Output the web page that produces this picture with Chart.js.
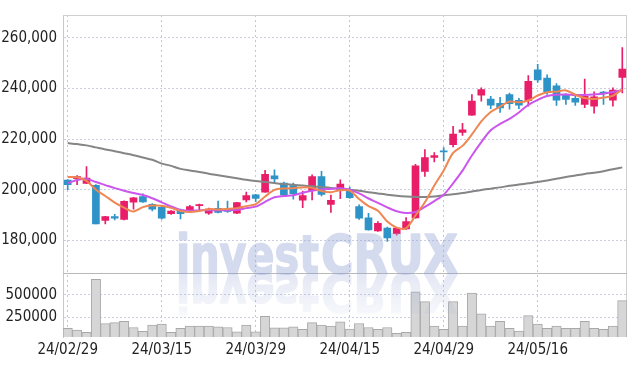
<!DOCTYPE html>
<html>
<head>
<meta charset="utf-8">
<script src="https://cdn.jsdelivr.net/npm/chart.js@4.4.1/dist/chart.umd.min.js"></script>
<style>
  html, body { margin: 0; padding: 0; background: #fff; }
</style>
</head>
<body>
<canvas id="chart" width="637" height="366"></canvas>
<script>
// --- Data -------------------------------------------------------------------
var dates = [
  '24/02/29','24/03/04','24/03/05','24/03/06','24/03/07','24/03/08','24/03/11','24/03/12','24/03/13','24/03/14',
  '24/03/15','24/03/18','24/03/19','24/03/20','24/03/21','24/03/22','24/03/25','24/03/26','24/03/27','24/03/28',
  '24/03/29','24/04/01','24/04/02','24/04/03','24/04/04','24/04/05','24/04/08','24/04/09','24/04/11','24/04/12',
  '24/04/15','24/04/16','24/04/17','24/04/18','24/04/19','24/04/22','24/04/23','24/04/24','24/04/25','24/04/26',
  '24/04/29','24/04/30','24/05/02','24/05/03','24/05/07','24/05/08','24/05/09','24/05/10','24/05/13','24/05/14',
  '24/05/16','24/05/17','24/05/20','24/05/21','24/05/22','24/05/23','24/05/24','24/05/27','24/05/28','24/05/29'
];

var openP = [
  203800, 204300, 202500, 201750, 187800, 189400, 188200, 195100, 197300, 194200,
  193000, 190500, 192000, 191800, 193700, 190700, 192600, 192300, 190700, 195900,
  198000, 199000, 205500, 202600, 201600, 195800, 199600, 205200, 194200, 200000,
  200000, 193300, 188900, 183700, 184800, 182600, 184500, 188800, 207200, 212700,
  215300, 217800, 222600, 229400, 237300, 235800, 234100, 237600, 235300, 235300,
  247300, 244100, 241000, 237300, 236100, 233700, 233000, 238500, 235400, 244300
];
var highP = [
  204000, 205600, 209100, 202000, 189500, 190300, 195600, 197000, 198400, 194500,
  193300, 191700, 192300, 193800, 194300, 192700, 195500, 195500, 195000, 199000,
  198200, 207600, 207800, 203000, 202600, 199400, 205900, 207200, 197900, 203900,
  201000, 194000, 190600, 187400, 185200, 185100, 189000, 210000, 215800, 214600,
  216600, 225000, 226200, 237600, 240200, 236900, 236500, 238200, 236100, 245100,
  249500, 245400, 241900, 238000, 236900, 243700, 238600, 238800, 240200, 256100
];
var lowP = [
  200000, 202000, 202500, 186500, 186500, 188000, 188000, 192300, 195000, 191600,
  188300, 190200, 188400, 190900, 192000, 190200, 190800, 191000, 190500, 195200,
  195300, 199000, 202900, 197800, 196200, 192900, 195900, 197500, 191000, 196400,
  196500, 188200, 184000, 183500, 179600, 182000, 184300, 188700, 205200, 211000,
  211500, 216900, 221400, 229300, 235000, 232000, 230500, 231800, 232000, 233000,
  242400, 237600, 233300, 233700, 233300, 232400, 230200, 233700, 233000, 238200
];
var closeP = [
  202000, 205200, 204600, 186500, 189400, 188700, 195400, 196800, 195200, 192300,
  188700, 191500, 190500, 193300, 194100, 192300, 191000, 191400, 194900, 197700,
  196500, 206100, 204200, 197900, 198400, 197700, 205200, 198100, 195800, 202200,
  196800, 188700, 184100, 186700, 180900, 184800, 187400, 209400, 212700, 213500,
  214900, 222000, 223600, 235000, 239500, 233400, 232300, 234000, 233400, 242800,
  243400, 238700, 235400, 235600, 234600, 236900, 236700, 238000, 239300, 247600
];

var volume = [
  122000, 103500,  78000, 673000, 177000, 188000, 202600, 133000,  89000, 158600,
  169600,  78000, 122000, 147600, 147600, 147600, 140000, 133000,  85000, 158600,
   85000, 257700, 129000, 129000, 140000, 111000, 188000, 158600, 147600, 195000,
  114500, 177000, 133000, 111000, 133000,  67000,  78000, 533000, 423000, 147600,
  111000, 423000, 147600, 518000, 287000, 147600, 202600, 122000,  92500, 265000,
  169600, 122000, 147600, 122000, 122000, 202600, 122000, 111000, 147600, 434000
];

// moving averages
var ma5 = [
  205000, 204900, 203500, 200000, 197500, 194900, 192900, 191400, 193100, 193700,
  193600, 192800, 191600, 191200, 191600, 192300, 192200, 192400, 192700, 193500,
  194300, 197300, 199900, 200500, 200600, 200900, 200700, 199500, 199000, 199800,
  199600, 196300, 193500, 191700, 187400, 185000, 184800, 189800, 195000, 201600,
  207600, 214500, 217300, 221800, 227000, 230700, 232800, 234800, 234500, 235200,
  237200, 238500, 238700, 239200, 237500, 236200, 235800, 236400, 237100, 239700
];
var ma20 = [
  202600, 203800, 204300, 203000, 201800, 200600, 199600, 198700, 197900, 196600,
  195000, 193400, 192000, 191700, 191800, 191900, 191900, 191900, 192100, 192700,
  193300, 195200, 197000, 197500, 197800, 198800, 199600, 200100, 200300, 200600,
  200000, 198500, 196500, 194800, 193000, 191500, 190800, 191200, 193200, 195500,
  198000, 202500, 207500, 213500, 218800, 223500, 226000, 228000, 230500, 233500,
  235500, 237000, 237500, 237600, 237400, 237400, 237600, 237900, 238600, 239300
];
var ma60 = [
  218400, 218000, 217500, 216700, 215900, 215200, 214400, 213600, 212700, 211800,
  210300, 209400, 208200, 207600, 207000, 206300, 205700, 205100, 204500, 203900,
  203400, 203000, 202600, 202200, 201900, 201600, 201300, 201000, 200700, 200300,
  200000, 199600, 199000, 198500, 198000, 197600, 197300, 197100, 197100, 197300,
  197800, 198200, 198700, 199300, 199900, 200400, 200900, 201500, 202000, 202500,
  203000, 203600, 204300, 205000, 205600, 206200, 206700, 207300, 208100, 208800
];

var priceTicks  = [180000, 200000, 220000, 240000, 260000];
var volumeTicks = [250000, 500000];

// --- Styling helpers --------------------------------------------------------
var UP = '#e81e68';
var DOWN = '#2e93c6';
var candleColors = openP.map(function(o, i){ return closeP[i] >= o ? UP : DOWN; });
var tickFont = { family: '"Liberation Sans Narrow", "DejaVu Sans Condensed", "Liberation Sans", sans-serif', size: 15 };

function lineSet(label, data, color){
  return {
    type: 'line', label: label, data: data, yAxisID: 'y',
    borderColor: color, borderWidth: 2, pointRadius: 0,
    tension: 0.3, fill: false, order: 0
  };
}

// frame lines and the divider between the price and volume panels
var framePlugin = {
  id: 'frame',
  beforeDatasetsDraw: function(chart){
    var ctx = chart.ctx, a = chart.chartArea;
    var mid = Math.round(chart.scales.vy.top) + 0.5;
    ctx.save();
    ctx.lineWidth = 1;
    ctx.strokeStyle = '#d0d0d0';
    ctx.beginPath();
    ctx.moveTo(a.left, a.top + 0.5); ctx.lineTo(a.right, a.top + 0.5);
    ctx.moveTo(a.right - 0.5, a.top); ctx.lineTo(a.right - 0.5, a.bottom);
    ctx.stroke();
    ctx.strokeStyle = '#b8b8b8';
    ctx.beginPath();
    ctx.moveTo(a.left, mid); ctx.lineTo(a.right, mid);
    ctx.stroke();
    ctx.restore();
  }
};

// "investCRUX" watermark with its reflection
function drawWord(g, text, size, x, width, baseY){
  g.save();
  g.font = 'bold ' + size + 'px "DejaVu Sans", sans-serif';
  var m = g.measureText(text).width;
  g.translate(x, baseY);
  g.scale(width / m, 1);
  g.fillText(text, 0, 0);
  g.strokeText(text, 0, 0);
  g.restore();
}

var watermarkPlugin = {
  id: 'watermark',
  afterDatasetsDraw: function(chart){
    var ctx = chart.ctx;
    var W = chart.width, H = chart.height;
    var base = Math.round(chart.scales.vy.top);

    var main = document.createElement('canvas');
    main.width = W; main.height = H;
    var g = main.getContext('2d');
    g.fillStyle = g.strokeStyle = 'rgb(150,165,212)';
    g.lineWidth = 1.6;
    g.lineJoin = 'round';
    g.textBaseline = 'alphabetic';
    drawWord(g, 'invest', 54, 176, 143, base);
    drawWord(g, 'CRUX', 53, 321, 137, base);

    var refl = document.createElement('canvas');
    refl.width = W; refl.height = H;
    var r = refl.getContext('2d');
    r.save();
    r.translate(0, 2 * base + 1);
    r.scale(1, -1);
    r.drawImage(main, 0, 0);
    r.restore();
    r.globalCompositeOperation = 'destination-in';
    var grad = r.createLinearGradient(0, base, 0, base + 44);
    grad.addColorStop(0, 'rgba(0,0,0,1)');
    grad.addColorStop(1, 'rgba(0,0,0,0.25)');
    r.fillStyle = grad;
    r.fillRect(0, base, W, 60);

    ctx.save();
    ctx.globalAlpha = 0.4;
    ctx.drawImage(main, 0, 0);
    ctx.globalAlpha = 0.26;
    ctx.drawImage(refl, 0, 0);
    ctx.restore();
  }
};

// --- Chart ------------------------------------------------------------------
var ctx = document.getElementById('chart').getContext('2d');
new Chart(ctx, {
  type: 'bar',
  data: {
    labels: dates,
    datasets: [
      lineSet('MA5', ma5, '#ee8752'),
      lineSet('MA20', ma20, '#cc55ee'),
      lineSet('MA60', ma60, '#858585'),
      {
        label: 'Range', yAxisID: 'y', grouped: false, order: 2,
        data: lowP.map(function(l, i){ return [l, highP[i]]; }),
        backgroundColor: candleColors, barThickness: 1
      },
      {
        label: 'Body', yAxisID: 'y', grouped: false, order: 1,
        data: openP.map(function(o, i){ return [o, closeP[i]]; }),
        backgroundColor: candleColors, barThickness: 7
      },
      {
        label: 'Volume', yAxisID: 'vy', grouped: false, order: 3,
        data: volume,
        backgroundColor: '#d6d6d6', borderColor: '#a8a8a8', borderWidth: 1,
        barPercentage: 1, categoryPercentage: 1
      }
    ]
  },
  options: {
    responsive: false,
    animation: false,
    devicePixelRatio: 1,
    layout: { padding: { left: 0, right: 10, top: 9, bottom: 0 } },
    plugins: { legend: { display: false }, tooltip: { enabled: false } },
    scales: {
      x: {
        offset: true,
        grid: { offset: false, color: '#c4c6cf', drawTicks: false },
        border: { display: false, dash: [2, 3] },
        ticks: { font: tickFont, color: '#222', padding: 4, maxRotation: 0, autoSkip: false },
        afterBuildTicks: function(s){ s.ticks = s.ticks.filter(function(t){ return t.value % 10 === 0; }); },
        afterFit: function(s){ s.height = 29; }
      },
      vy: {
        position: 'left', stack: 'panes', stackWeight: 65,
        min: 26000, max: 742000,
        grid: { color: '#c9cee0', drawTicks: false },
        border: { display: true, color: '#c8c8c8', dash: [2, 2] },
        ticks: {
          font: tickFont, color: '#222', padding: 6, includeBounds: false,
          callback: function(v){ return String(v); }
        },
        afterBuildTicks: function(s){ s.ticks = volumeTicks.map(function(v){ return { value: v }; }); },
        afterFit: function(s){ s.width = 63; }
      },
      y: {
        position: 'left', stack: 'panes', stackWeight: 263,
        min: 167000, max: 269000,
        grid: { color: '#c9cee0', drawTicks: false },
        border: { display: true, color: '#c8c8c8', dash: [2, 2] },
        ticks: {
          font: tickFont, color: '#222', padding: 6, includeBounds: false,
          callback: function(v){ return Number(v).toLocaleString('en-US'); }
        },
        afterBuildTicks: function(s){ s.ticks = priceTicks.map(function(v){ return { value: v }; }); },
        afterFit: function(s){ s.width = 63; }
      }
    }
  },
  plugins: [framePlugin, watermarkPlugin]
});
</script>
</body>
</html>
